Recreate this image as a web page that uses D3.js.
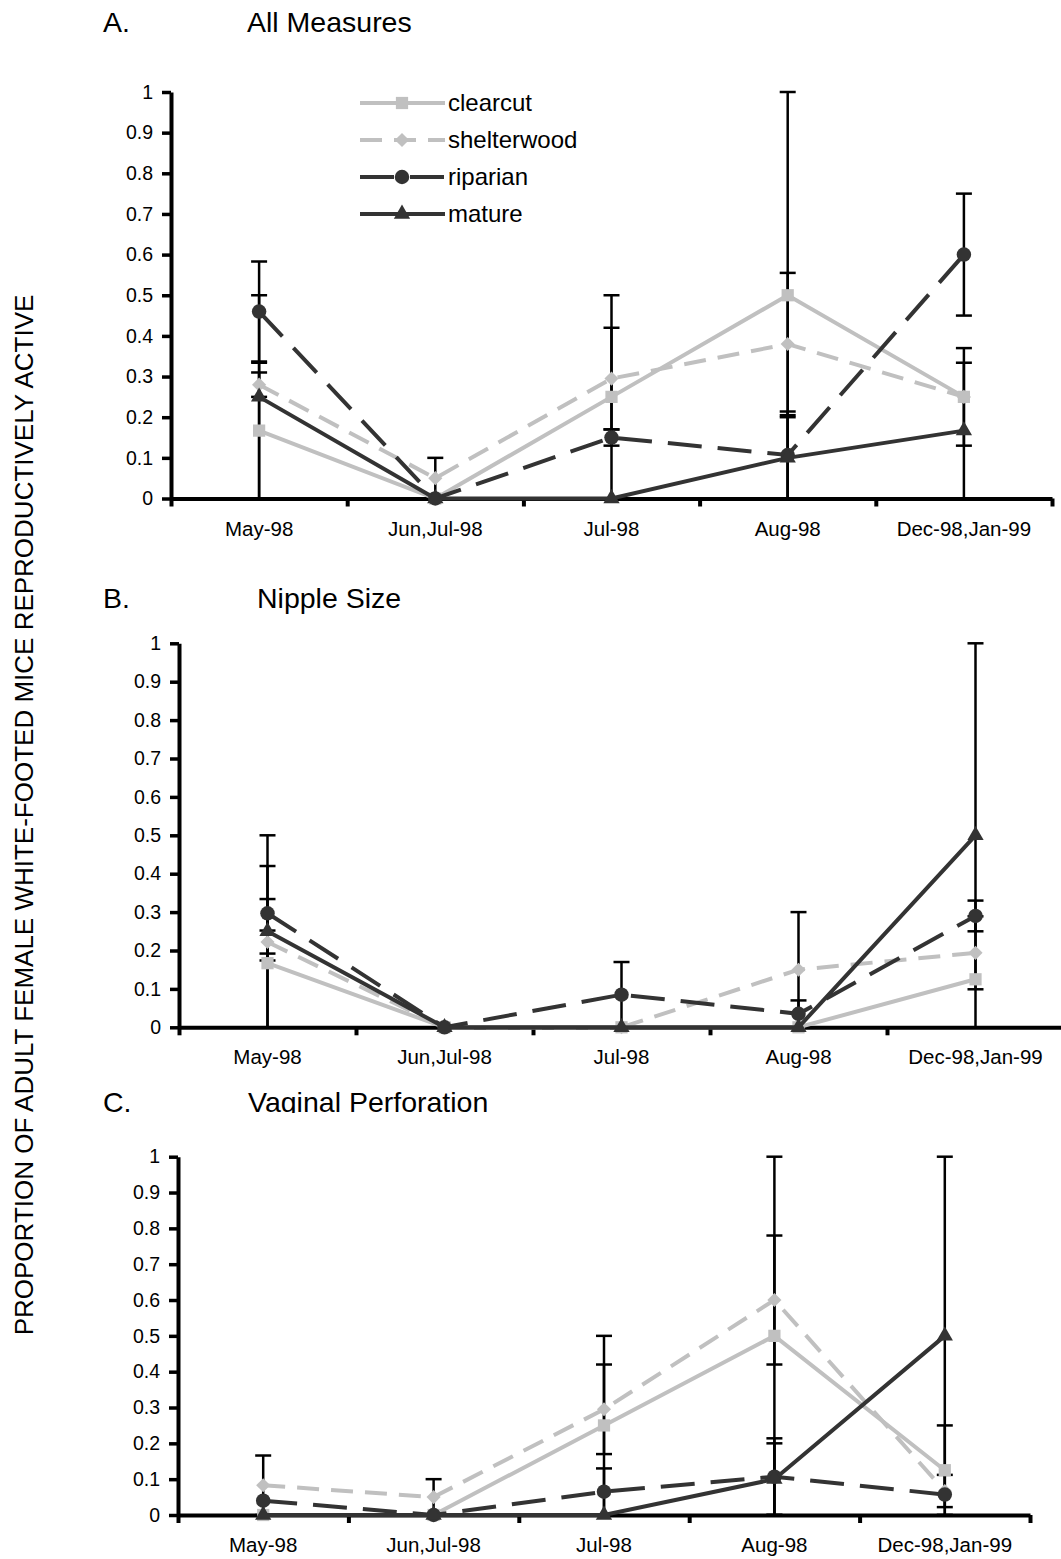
<!DOCTYPE html>
<html>
<head>
<meta charset="utf-8">
<script src="https://cdn.jsdelivr.net/npm/d3@7"></script>
<style>
  body { margin: 0; background: #fff; }
  svg text { font-family: "Liberation Sans", Arial, sans-serif; fill: #000; }
</style>
</head>
<body>
<script>
// categories and series
const categories = ['May-98', 'Jun,Jul-98', 'Jul-98', 'Aug-98', 'Dec-98,Jan-99'];
const seriesNames = ['clearcut', 'shelterwood', 'riparian', 'mature'];
const yTicks = [0, 0.1, 0.2, 0.3, 0.4, 0.5, 0.6, 0.7, 0.8, 0.9, 1];

// A. All Measures
const allClearcut    = [0.167, 0, 0.25, 0.5, 0.25];
const allShelterwood = [0.28, 0.05, 0.295, 0.38, 0.25];
const allRiparian    = [0.46, 0, 0.15, 0.107, 0.6];
const allMature      = [0.25, 0, 0, 0.1, 0.167];
const allClearcutErr    = [0.167, 0, 0.25, 0.5, 0.12];
const allShelterwoodErr = [0.03, 0.05, 0.125, 0.175, 0];
const allRiparianErr    = [0.123, 0, 0.02, 0.107, 0.15];
const allMatureErr      = [0.25, 0, 0, 0.1, 0.167];

// B. Nipple Size
const nipClearcut    = [0.167, 0, 0, 0, 0.125];
const nipShelterwood = [0.222, 0, 0, 0.15, 0.194];
const nipRiparian    = [0.297, 0, 0.085, 0.035, 0.29];
const nipMature      = [0.25, 0, 0, 0, 0.5];
const nipClearcutErr    = [0.167, 0, 0, 0, 0];
const nipShelterwoodErr = [0.03, 0, 0, 0.15, 0.095];
const nipRiparianErr    = [0.123, 0, 0.085, 0.035, 0.04];
const nipMatureErr      = [0.25, 0, 0, 0, 0.5];

// C. Vaginal Perforation
const vagClearcut    = [0, 0, 0.25, 0.5, 0.125];
const vagShelterwood = [0.083, 0.05, 0.295, 0.6, 0.067];
const vagRiparian    = [0.04, 0, 0.065, 0.107, 0.057];
const vagMature      = [0, 0, 0, 0.1, 0.5];
const vagClearcutErr    = [0, 0, 0.25, 0.5, 0.125];
const vagShelterwoodErr = [0.083, 0.05, 0.125, 0.18, 0.045];
const vagRiparianErr    = [0, 0, 0.065, 0.107, 0];
const vagMatureErr      = [0, 0, 0, 0.1, 0.5];

const LIGHT = '#c0c0c0', DARK = '#333333';
const styles = {
  clearcut:    {color: LIGHT, dash: null,    symbol: d3.symbolSquare, size: 150, rotate: 0},
  shelterwood: {color: LIGHT, dash: '22,12', symbol: d3.symbolSquare, size: 100, rotate: 45},
  riparian:    {color: DARK,  dash: '34,16', symbol: d3.symbolCircle, size: 165, rotate: 0},
  mature:      {color: DARK,  dash: null,    symbol: d3.symbolTriangle, size: 115, rotate: 0}
};

const panels = [
  {label: 'A.', title: 'All Measures', values: [allClearcut, allShelterwood, allRiparian, allMature],
   errors: [allClearcutErr, allShelterwoodErr, allRiparianErr, allMatureErr],
   x0: 171, x1: 1052, yTop: 92, yBot: 498.5, titleY: 32, titleX: 247, legend: true},
  {label: 'B.', title: 'Nipple Size', values: [nipClearcut, nipShelterwood, nipRiparian, nipMature],
   errors: [nipClearcutErr, nipShelterwoodErr, nipRiparianErr, nipMatureErr],
   x0: 179, x1: 1064, yTop: 643.3, yBot: 1027.3, titleY: 608, titleX: 257},
  {label: 'C.', title: 'Vaginal Perforation', values: [vagClearcut, vagShelterwood, vagRiparian, vagMature],
   errors: [vagClearcutErr, vagShelterwoodErr, vagRiparianErr, vagMatureErr],
   x0: 178, x1: 1030, yTop: 1156.7, yBot: 1515, titleY: 1112, titleX: 248, clipTitle: true}
];

const svg = d3.select('body').append('svg').attr('width', 1061).attr('height', 1559);

svg.append('text')
  .attr('transform', 'translate(33,815) rotate(-90)')
  .attr('text-anchor', 'middle').attr('font-size', '26px')
  .text('PROPORTION OF ADULT FEMALE WHITE-FOOTED MICE REPRODUCTIVELY ACTIVE');

const fmt = d => (d === 0 || d === 1) ? String(d) : d3.format('.1f')(d);

function marker(g, name, px, py) {
  const s = styles[name];
  g.append('path')
    .attr('d', d3.symbol().type(s.symbol).size(s.size)())
    .attr('transform', `translate(${px},${py}) rotate(${s.rotate})`)
    .attr('fill', s.color);
}

panels.forEach((p, pi) => {
  const g = svg.append('g');

  // titles
  const tg = g.append('g');
  if (p.clipTitle) {
    svg.append('clipPath').attr('id', 'clip' + pi).append('rect')
      .attr('x', 0).attr('y', p.titleY - 40).attr('width', 1061).attr('height', 41);
    tg.attr('clip-path', `url(#clip${pi})`);
  }
  tg.append('text').attr('x', 103).attr('y', p.titleY).attr('font-size', '28.5px').text(p.label);
  tg.append('text').attr('x', p.titleX).attr('y', p.titleY).attr('font-size', '28.5px').text(p.title);

  const x = d3.scaleBand().domain(categories).range([p.x0, p.x1]);
  const cx = c => x(c) + x.bandwidth() / 2;
  const y = d3.scaleLinear().domain([0, 1]).range([p.yBot, p.yTop]);

  // error bars
  const eg = g.append('g').attr('stroke', '#000').attr('stroke-width', 2.5);
  seriesNames.forEach((name, si) => {
    p.errors[si].forEach((e, i) => {
      if (!e) return;
      const v = p.values[si][i];
      const lo = Math.max(0, v - e), hi = Math.min(1, v + e);
      const xx = cx(categories[i]);
      eg.append('line').attr('x1', xx).attr('x2', xx).attr('y1', y(lo)).attr('y2', y(hi));
      [lo, hi].forEach(b => eg.append('line')
        .attr('x1', xx - 8).attr('x2', xx + 8).attr('y1', y(b)).attr('y2', y(b)));
    });
  });

  // axes
  const ya = g.append('g').attr('transform', `translate(${p.x0},0)`)
    .call(d3.axisLeft(y).tickValues(yTicks).tickSize(9).tickSizeOuter(0).tickPadding(9).tickFormat(fmt));
  ya.select('.domain').attr('stroke', '#000').attr('stroke-width', 4);
  ya.selectAll('.tick line').attr('stroke', '#000').attr('stroke-width', 3.5);
  ya.selectAll('text').attr('font-size', '19.5px').attr('font-family', null);

  const xb = d3.scaleLinear().domain([0, categories.length]).range([p.x0, p.x1]);
  const xa = g.append('g').attr('transform', `translate(0,${p.yBot})`)
    .call(d3.axisBottom(xb).tickValues(d3.range(categories.length + 1)).tickSize(8).tickSizeOuter(0).tickFormat(''));
  xa.select('.domain').attr('stroke', '#000').attr('stroke-width', 4);
  xa.selectAll('.tick line').attr('stroke', '#000').attr('stroke-width', 4);

  const xl = g.append('g').attr('transform', `translate(0,${p.yBot})`)
    .call(d3.axisBottom(x).tickSize(0));
  xl.select('.domain').remove();
  xl.selectAll('text').attr('y', 37).attr('dy', 0).attr('font-size', '20.5px').attr('font-family', null);

  // lines and markers
  seriesNames.forEach((name, si) => {
    const s = styles[name];
    const vals = p.values[si];
    g.append('path').datum(vals)
      .attr('fill', 'none').attr('stroke', s.color).attr('stroke-width', 4)
      .attr('stroke-dasharray', s.dash)
      .attr('d', d3.line().x((d, i) => cx(categories[i])).y(d => y(d)));
    vals.forEach((v, i) => marker(g, name, cx(categories[i]), y(v)));
  });

  // legend
  if (p.legend) {
    const lg = g.append('g');
    seriesNames.forEach((name, si) => {
      const s = styles[name];
      const ly = 103 + si * 37;
      lg.append('line').attr('x1', 360).attr('x2', 445).attr('y1', ly).attr('y2', ly)
        .attr('stroke', s.color).attr('stroke-width', 4).attr('stroke-dasharray', s.dash);
      marker(lg, name, 402, ly);
      lg.append('text').attr('x', 448).attr('y', ly).attr('dy', '0.35em')
        .attr('font-size', '24px').text(name);
    });
  }
});
</script>
</body>
</html>
